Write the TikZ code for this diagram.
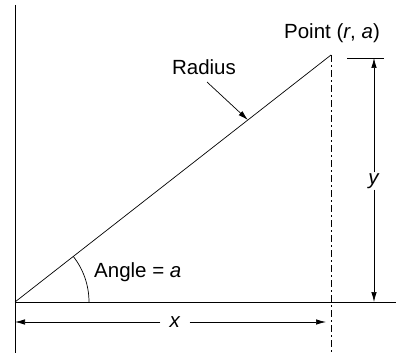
\documentclass[tikz,border=0pt]{standalone}
\usepackage{fontspec}
\setmainfont{Liberation Sans}
\usetikzlibrary{arrows.meta,calc}
\begin{document}
\begin{tikzpicture}[x=1pt,y=-1pt,
  axisline/.style={line width=0.9pt},
  thinline/.style={line width=0.7pt},
  dashline/.style={line width=0.7pt,dash pattern=on 7pt off 3pt on 2pt off 3pt},
  dimarrow/.style={line width=0.7pt,-{Latex[length=10pt,width=5.5pt]}},
  lbl/.style={font=\fontsize{20.5}{24}\selectfont,inner sep=1pt}]
\useasboundingbox (0,0) rectangle (396,353);
% axes
\coordinate (O) at (15,302);
\coordinate (ytop) at (15,5);
\coordinate (ybot) at (15,353);
\coordinate (xend) at (396,302);
\draw[axisline] (ytop) -- (ybot);
\draw[axisline] (O) -- (xend);
% radius
\coordinate (P) at (331,55);
\draw[thinline] (O) -- (P);
% dashed vertical
\coordinate (Pbot) at (331,353);
\draw[dashline] (P) -- (Pbot);
% angle arc
\coordinate (arcstart) at (89,302);
\draw[thinline] (arcstart) arc[start angle=0,end angle=-38,radius=74];
\node[lbl,anchor=west] (ang) at (93,272) {Angle = \textit{a}};
% point label
\node[lbl] (plbl) at (332,33) {Point (\textit{r}, \textit{a})};
% radius label
\node[lbl] (rlbl) at (204,67) {Radius};
\coordinate (rstart) at (207,82);
\coordinate (ron) at ($(O)!0.737!(P)$);
\draw[dimarrow] (rstart) -- (ron);
% y dimension
\coordinate (tk1) at (347,58);
\coordinate (tk2) at (384,58);
\draw[thinline] (tk1) -- (tk2);
\node[lbl] (ylbl) at (374,181) {\textit{y}};
\coordinate (ytopd) at (374,58);
\coordinate (ybotd) at (374,302);
\draw[dimarrow] (ylbl.north) -- (ytopd);
\draw[dimarrow] (ylbl.south) -- (ybotd);
% x dimension
\node[lbl] (xlbl) at (175,322) {\textit{x}};
\coordinate (xl) at (15,322);
\coordinate (xr) at (326,322);
\draw[dimarrow] ($(xlbl.west)+(-8,0)$) -- (xl);
\draw[dimarrow] ($(xlbl.east)+(8,0)$) -- (xr);
\end{tikzpicture}
\end{document}
